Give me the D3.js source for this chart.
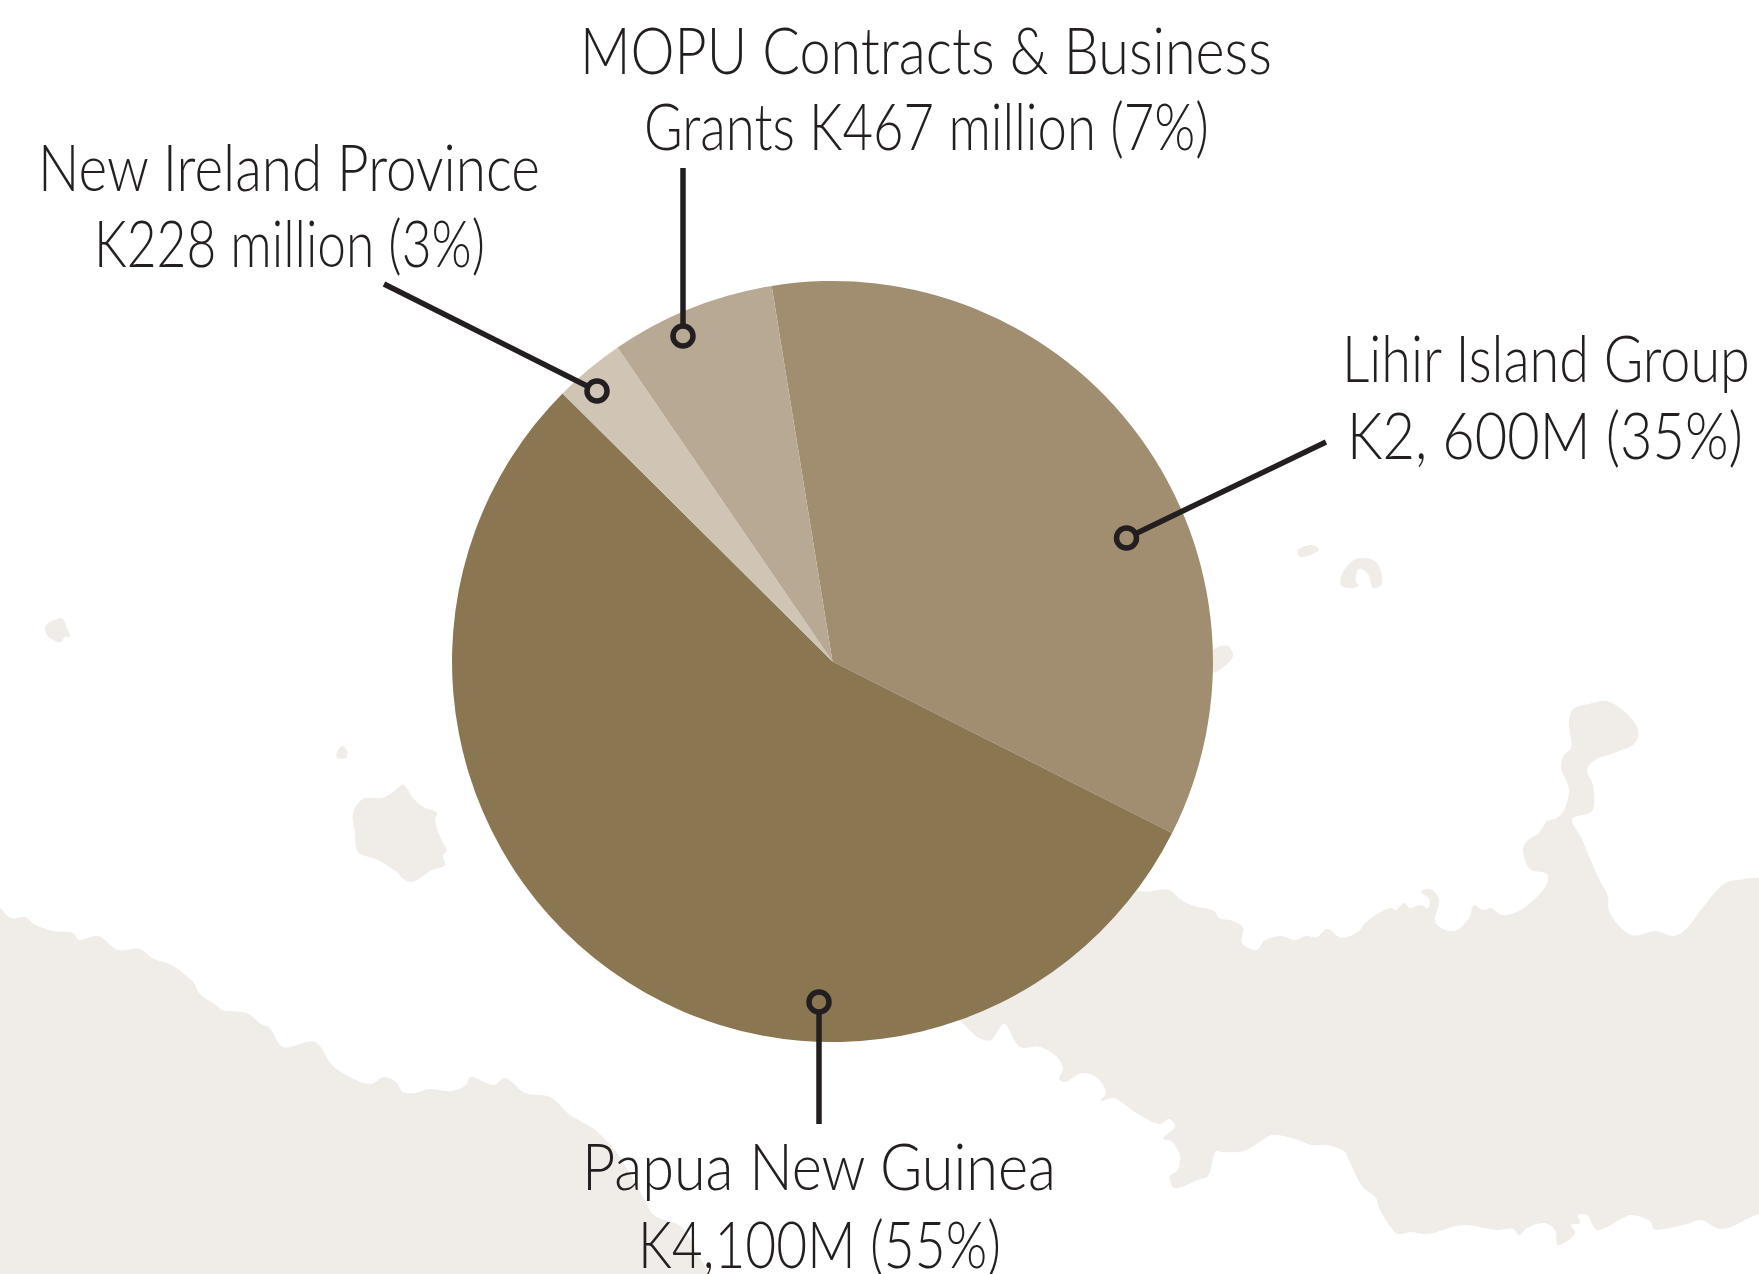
<!DOCTYPE html>
<html><head><meta charset="utf-8">
<script src="https://cdn.jsdelivr.net/npm/d3@7"></script>
<style>html,body{margin:0;padding:0;background:#fff}svg{display:block}</style>
</head><body><svg id="c" width="1759" height="1274"></svg>
<script>
const categories=["Lihir Island Group","Papua New Guinea","New Ireland Province","MOPU Contracts & Business Grants"];
const percents=[35,55,3,7];
const colors=["#a18e70","#8a7650","#d0c5b5","#b8a994"];
const pinFrom=[[1126.5,538],[819,1002],[597,391],[683,336]];
const pinTo=[[1326,442],[819,1124],[384,284],[683,168]];
// [text, left x, right x, baseline y]
const labelRows=[
 ["Lihir Island Group",1342,1750,382],
 ["K2, 600M (35%)",1347,1743,459],
 ["Papua New Guinea",582,1056,1190],
 ["K4,100M (55%)",638,1001,1268],
 ["New Ireland Province",38,540,191],
 ["K228 million (3%)",94,485,267],
 ["MOPU Contracts & Business",580,1272,74],
 ["Grants K467 million (7%)",644,1209,150]];
const landWest=[[-10,900],[11,918],[25,917],[34,924],[53,931],[73,933],[79,940],[98,936],[118,950],[140,949],[152,958],[171,965],[194,983],[199,993],[216,1005],[222,1010],[247,1013],[261,1024],[269,1027],[283,1047],[315,1042],[334,1067],[370,1084],[384,1077],[396,1082],[403,1092],[415,1093],[429,1089],[452,1091],[466,1085],[470,1077],[494,1085],[505,1078],[525,1093],[550,1097],[570,1115],[595,1130],[617,1153],[643,1197],[654,1215],[682,1227],[697,1253],[712,1290],[-10,1290]];
const landEast=[[900,800],[1138,891],[1169,890],[1180,899],[1194,906],[1214,911],[1219,918],[1233,921],[1243,928],[1242,943],[1257,950],[1264,941],[1281,936],[1295,940],[1306,936],[1317,937],[1327,929],[1342,938],[1359,931],[1365,923],[1390,908],[1396,910],[1404,903],[1410,908],[1421,905],[1428,908],[1429,899],[1421,892],[1430,889],[1439,899],[1435,921],[1441,928],[1455,931],[1469,918],[1474,905],[1483,910],[1491,908],[1502,915],[1519,911],[1547,884],[1547,874],[1530,869],[1523,849],[1527,841],[1539,833],[1547,821],[1555,819],[1563,812],[1569,790],[1561,767],[1564,755],[1571,748],[1569,723],[1573,709],[1589,704],[1606,701],[1625,712],[1638,730],[1635,743],[1614,753],[1595,760],[1587,770],[1593,785],[1592,811],[1572,819],[1581,837],[1589,856],[1600,881],[1608,896],[1609,911],[1631,935],[1656,931],[1673,936],[1684,931],[1704,906],[1724,884],[1738,880],[1775,884],[1775,1200],[1749,1218],[1721,1229],[1701,1220],[1687,1224],[1654,1229],[1651,1222],[1631,1215],[1623,1218],[1597,1230],[1587,1215],[1578,1215],[1580,1223],[1571,1225],[1575,1233],[1558,1245],[1555,1230],[1544,1223],[1527,1228],[1519,1235],[1513,1229],[1497,1230],[1463,1225],[1427,1234],[1410,1232],[1398,1234],[1379,1208],[1376,1198],[1362,1186],[1348,1158],[1345,1152],[1328,1145],[1312,1145],[1295,1139],[1272,1135],[1261,1141],[1244,1151],[1222,1152],[1216,1151],[1208,1176],[1200,1179],[1174,1188],[1170,1176],[1177,1171],[1180,1156],[1171,1141],[1163,1139],[1175,1126],[1169,1119],[1160,1124],[1138,1114],[1113,1098],[1101,1101],[1106,1092],[1096,1077],[1082,1073],[1065,1082],[1059,1079],[1063,1069],[1057,1057],[1040,1047],[1020,1047],[1004,1024],[991,1040],[981,1039],[961,1022],[900,960]];
const islandBig=[[403,785],[413,798],[423,807],[437,813],[435,820],[443,843],[447,850],[443,856],[445,865],[432,870],[412,882],[402,878],[398,873],[378,860],[358,852],[355,833],[353,813],[363,799],[382,798],[392,793]];
const islandSmall=[[342,746],[347,750],[346,758],[337,758],[337,752]];
const islandWest=[[62,618],[67,628],[70,637],[65,637],[61,642],[53,640],[47,635],[45,628],[48,623],[55,620]];
const islet1=[[1298,550],[1312,545],[1319,550],[1300,557]];
const islet2=[[1342,574],[1356,559],[1376,562],[1382,584],[1373,588],[1368,574],[1359,569],[1356,582],[1359,585],[1354,588],[1341,585]];
const islet3=[[1205,660],[1214,649],[1228,646],[1233,656],[1216,672],[1205,672]];
const landShapes=[landWest,landEast,islandBig,islandSmall,islandWest,islet1,islet2,islet3];

const svg=d3.select("#c");
const ink="#231f20";
const land=d3.line().curve(d3.curveCatmullRomClosed.alpha(0.5));
svg.append("g").selectAll("path").data(landShapes).join("path").attr("d",d=>land(d)).attr("fill","#f0ede8");
const g=svg.append("g").attr("transform","translate(832.5,661.5)");
const startDeg=-9.2;
const pie=d3.pie().sort(null).value(d=>d).startAngle(startDeg*Math.PI/180).endAngle((360+startDeg)*Math.PI/180);
const arc=d3.arc().innerRadius(0).outerRadius(380.5);
g.selectAll("path").data(pie(percents)).join("path").attr("d",arc).attr("fill",(d,i)=>colors[i]);
const pinR=10, sw=5.5;
svg.selectAll("line.p").data(pinTo).join("line").attr("class","p")
 .each(function(d,i){const f=pinFrom[i],L=Math.hypot(d[0]-f[0],d[1]-f[1]);
  d3.select(this).attr("x1",f[0]+(d[0]-f[0])*pinR/L).attr("y1",f[1]+(d[1]-f[1])*pinR/L).attr("x2",d[0]).attr("y2",d[1]);})
 .attr("stroke",ink).attr("stroke-width",sw);
svg.selectAll("circle").data(pinFrom).join("circle").attr("cx",d=>d[0]).attr("cy",d=>d[1]).attr("r",pinR)
 .attr("fill","none").attr("stroke",ink).attr("stroke-width",sw);
svg.append("g").selectAll("text").data(labelRows).join("text")
 .attr("font-family","Lato").attr("font-weight",300).attr("font-size",65).attr("fill",ink).text(d=>d[0])
 .attr("transform",function(d){const w=this.getComputedTextLength();return `translate(${d[1]},${d[3]}) scale(${(d[2]-d[1])/w},1)`;});
</script></body></html>
